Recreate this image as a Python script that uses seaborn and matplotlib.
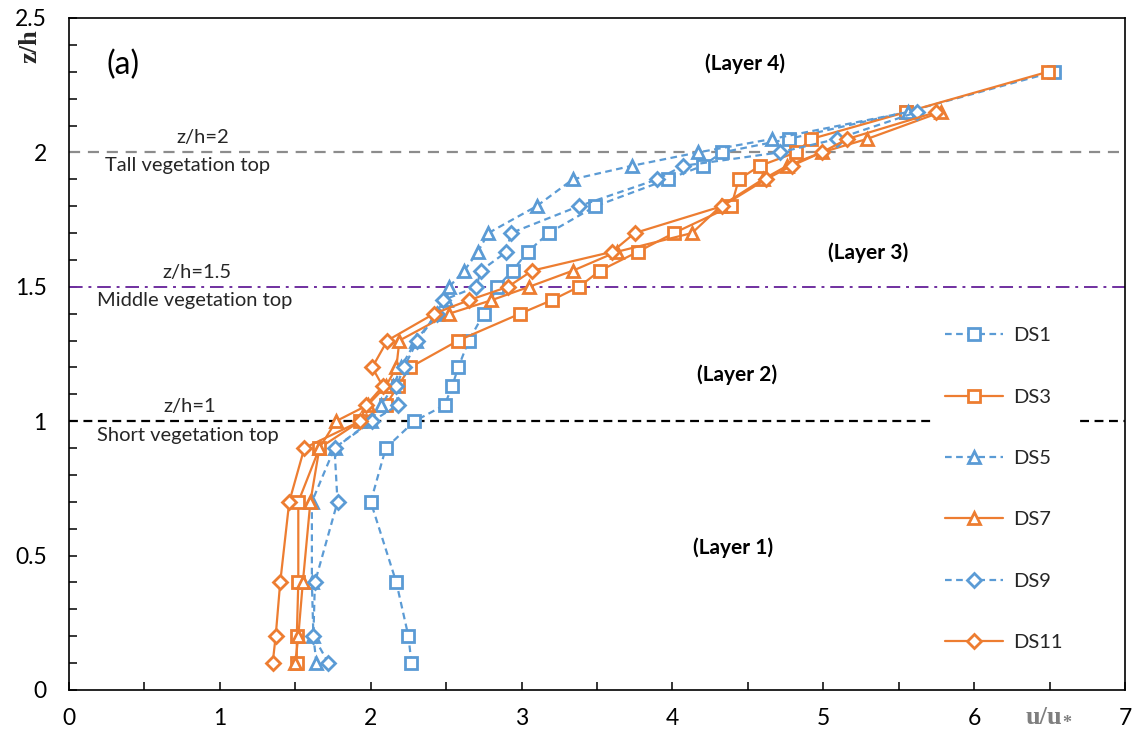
import matplotlib
matplotlib.use("Agg")
import matplotlib.pyplot as plt
import seaborn as sns
import pandas as pd
from matplotlib.ticker import MultipleLocator

# ---------------- data ----------------
series_names = ["DS1", "DS3", "DS5", "DS7", "DS9", "DS11"]

z_ds1 = [0.1, 0.2, 0.4, 0.7, 0.9, 1.0, 1.06, 1.13, 1.2, 1.3, 1.4, 1.5, 1.56, 1.63, 1.7,
         1.8, 1.9, 1.95, 2.0, 2.05, 2.15, 2.3]
u_ds1 = [2.27, 2.25, 2.17, 2.00, 2.10, 2.29, 2.49, 2.54, 2.58, 2.65, 2.75, 2.84, 2.94, 3.04, 3.18,
         3.49, 3.97, 4.20, 4.33, 4.77, 5.55, 6.53]

z_ds3 = [0.1, 0.2, 0.4, 0.7, 0.9, 1.0, 1.06, 1.13, 1.2, 1.3, 1.4, 1.45, 1.5, 1.56, 1.63, 1.7,
         1.8, 1.9, 1.95, 2.0, 2.05, 2.15, 2.3]
u_ds3 = [1.51, 1.51, 1.52, 1.52, 1.66, 1.93, 2.10, 2.18, 2.26, 2.58, 2.99, 3.20, 3.38, 3.52, 3.77, 4.01,
         4.39, 4.44, 4.58, 4.82, 4.92, 5.55, 6.49]

z_ds5 = [0.1, 0.2, 0.4, 0.7, 0.9, 1.0, 1.06, 1.13, 1.2, 1.3, 1.4, 1.45, 1.5, 1.56, 1.63, 1.7,
         1.8, 1.9, 1.95, 2.0, 2.05, 2.15]
u_ds5 = [1.64, 1.62, 1.61, 1.61, 1.76, 2.00, 2.07, 2.15, 2.20, 2.30, 2.44, 2.50, 2.52, 2.62, 2.71, 2.78,
         3.10, 3.34, 3.73, 4.17, 4.66, 5.56]

z_ds7 = [0.1, 0.2, 0.4, 0.7, 0.9, 1.0, 1.06, 1.13, 1.2, 1.3, 1.4, 1.45, 1.5, 1.56, 1.63, 1.7,
         1.8, 1.9, 1.95, 2.0, 2.05, 2.15]
u_ds7 = [1.50, 1.52, 1.55, 1.60, 1.66, 1.77, 1.98, 2.10, 2.17, 2.19, 2.52, 2.80, 3.05, 3.34, 3.63, 4.13,
         4.32, 4.60, 4.76, 4.99, 5.29, 5.78]

z_ds9 = [0.1, 0.2, 0.4, 0.7, 0.9, 1.0, 1.06, 1.13, 1.2, 1.3, 1.4, 1.45, 1.5, 1.56, 1.63, 1.7,
         1.8, 1.9, 1.95, 2.0, 2.05, 2.15]
u_ds9 = [1.72, 1.62, 1.63, 1.78, 1.76, 2.01, 2.18, 2.17, 2.22, 2.31, 2.44, 2.48, 2.70, 2.73, 2.90, 2.93,
         3.38, 3.90, 4.07, 4.71, 5.09, 5.62]

z_ds11 = [0.1, 0.2, 0.4, 0.7, 0.9, 1.0, 1.06, 1.13, 1.2, 1.3, 1.4, 1.45, 1.5, 1.56, 1.63, 1.7,
          1.8, 1.9, 1.95, 2.0, 2.05, 2.15]
u_ds11 = [1.35, 1.37, 1.40, 1.46, 1.56, 1.93, 1.97, 2.08, 2.01, 2.11, 2.42, 2.65, 2.91, 3.07, 3.60, 3.75,
          4.33, 4.62, 4.79, 4.99, 5.16, 5.75]

ref_levels = [2.0, 1.5, 1.0]
ref_labels = ["z/h=2", "z/h=1.5", "z/h=1"]
ref_names = ["Tall vegetation top", "Middle vegetation top", "Short vegetation top"]
layer_labels = ["(Layer 4)", "(Layer 3)", "(Layer 2)", "(Layer 1)"]

# ---------------- style ----------------
sns.set_theme(style="white")
plt.rcParams["font.family"] = ["Lato", "DejaVu Sans"]

BLUE = "#5B9BD5"
ORANGE = "#ED7D31"

frames = []
for name, z, u in [("DS1", z_ds1, u_ds1), ("DS3", z_ds3, u_ds3), ("DS5", z_ds5, u_ds5),
                   ("DS7", z_ds7, u_ds7), ("DS9", z_ds9, u_ds9), ("DS11", z_ds11, u_ds11)]:
    frames.append(pd.DataFrame({"series": name, "z": z, "u": u, "order": range(len(z))}))
df = pd.concat(frames, ignore_index=True)

styles = {
    "DS1": dict(color=BLUE, marker="s", ls=(0, (3, 2))),
    "DS3": dict(color=ORANGE, marker="s", ls="-"),
    "DS5": dict(color=BLUE, marker="^", ls=(0, (3, 2))),
    "DS7": dict(color=ORANGE, marker="^", ls="-"),
    "DS9": dict(color=BLUE, marker="D", ls=(0, (3, 2))),
    "DS11": dict(color=ORANGE, marker="D", ls="-"),
}
msize = {"s": 8, "^": 9, "D": 7}

fig = plt.figure(figsize=(11.37, 7.42), dpi=100)
ax = fig.add_axes([69 / 1137, 1 - 690 / 742, (1125 - 69) / 1137, (690 - 18) / 742])

for name in series_names:
    st = styles[name]
    sub = df[df["series"] == name]
    sns.lineplot(data=sub, x="u", y="z", sort=False, estimator=None, ax=ax,
                 color=st["color"], linestyle=st["ls"], linewidth=1.6,
                 marker=st["marker"], markersize=msize[st["marker"]],
                 markerfacecolor="white", markeredgecolor=st["color"], markeredgewidth=2.0,
                 label=name, legend=False, zorder=3)

# reference lines
ax.axhline(ref_levels[0], color="#8C8C8C", lw=1.6, ls=(0, (5, 3.5)), zorder=1)
ax.axhline(ref_levels[1], color="#7030A0", lw=1.4, ls=(0, (7, 3, 1.5, 3)), zorder=1)
ax.axhline(ref_levels[2], color="black", lw=1.6, ls=(0, (4, 2.5)), zorder=1)

# annotations
fs_ann = 14.5
ax.text(0.89, 2.055, ref_labels[0], ha="center", va="center", fontsize=fs_ann, color="#262626")
ax.text(0.24, 1.95, ref_names[0], ha="left", va="center", fontsize=fs_ann, color="#262626")
ax.text(0.85, 1.555, ref_labels[1], ha="center", va="center", fontsize=fs_ann, color="#262626")
ax.text(0.185, 1.45, ref_names[1], ha="left", va="center", fontsize=fs_ann, color="#262626")
ax.text(0.80, 1.053, ref_labels[2], ha="center", va="center", fontsize=fs_ann, color="#262626")
ax.text(0.185, 0.945, ref_names[2], ha="left", va="center", fontsize=fs_ann, color="#262626")

ax.text(0.36, 2.325, "(a)", ha="center", va="center", fontsize=23, color="black")
layer_pos = [(4.48, 2.33), (5.30, 1.626), (4.43, 1.172), (4.40, 0.528)]
for lab, (xx, yy) in zip(layer_labels, layer_pos):
    ax.text(xx, yy, lab, ha="center", va="center", fontsize=15, fontweight="bold", color="black")

# axes
ax.set_xlim(0, 7)
ax.set_ylim(0, 2.5)
ax.xaxis.set_major_locator(MultipleLocator(1))
ax.xaxis.set_minor_locator(MultipleLocator(0.5))
ax.yaxis.set_major_locator(MultipleLocator(0.5))
ax.yaxis.set_minor_locator(MultipleLocator(0.1))
ax.tick_params(axis="both", which="both", direction="in", length=6, width=1.1, color="black")
ax.tick_params(axis="x", which="both", bottom=True, top=False)
ax.tick_params(axis="y", which="both", left=True, right=False)
ax.tick_params(axis="x", which="major", labelsize=16.5, pad=13, labelcolor="black")
ax.tick_params(axis="y", which="major", labelsize=16.5, pad=16, labelcolor="black")
ax.set_yticks([0, 0.5, 1, 1.5, 2, 2.5])
ax.set_yticklabels(["0", "0.5", "1", "1.5", "2", "2.5"])
ax.set_xlabel("")
ax.set_ylabel("")
for sp in ax.spines.values():
    sp.set_color("black")
    sp.set_linewidth(1.2)
    sp.set_visible(True)

# axis titles
fig.text(30 / 1137, 1 - 46 / 742, "z/h", rotation=90, ha="center", va="center",
         fontsize=19, fontweight="bold", family=["Liberation Serif", "DejaVu Serif"], color="#262626")
fig.text(1062 / 1137, 1 - 718 / 742, "u/u", ha="right", va="center",
         fontsize=19, fontweight="bold", family=["Liberation Serif", "DejaVu Serif"], color="#7F7F7F")
fig.text(1062 / 1137, 1 - 724 / 742, "*", ha="left", va="center",
         fontsize=13, fontweight="bold", family=["Liberation Serif", "DejaVu Serif"], color="#7F7F7F")

# legend
handles, labels = ax.get_legend_handles_labels()
leg = ax.legend(handles, labels, loc="upper left", bbox_to_anchor=(0.818, 0.558),
                frameon=True, facecolor="white", edgecolor="none", framealpha=1,
                fontsize=14.5, labelspacing=2.2, handlelength=2.9, handletextpad=0.5,
                borderpad=0.6, borderaxespad=0)
leg.set_zorder(5)

fig.savefig("out.png", dpi=100)
